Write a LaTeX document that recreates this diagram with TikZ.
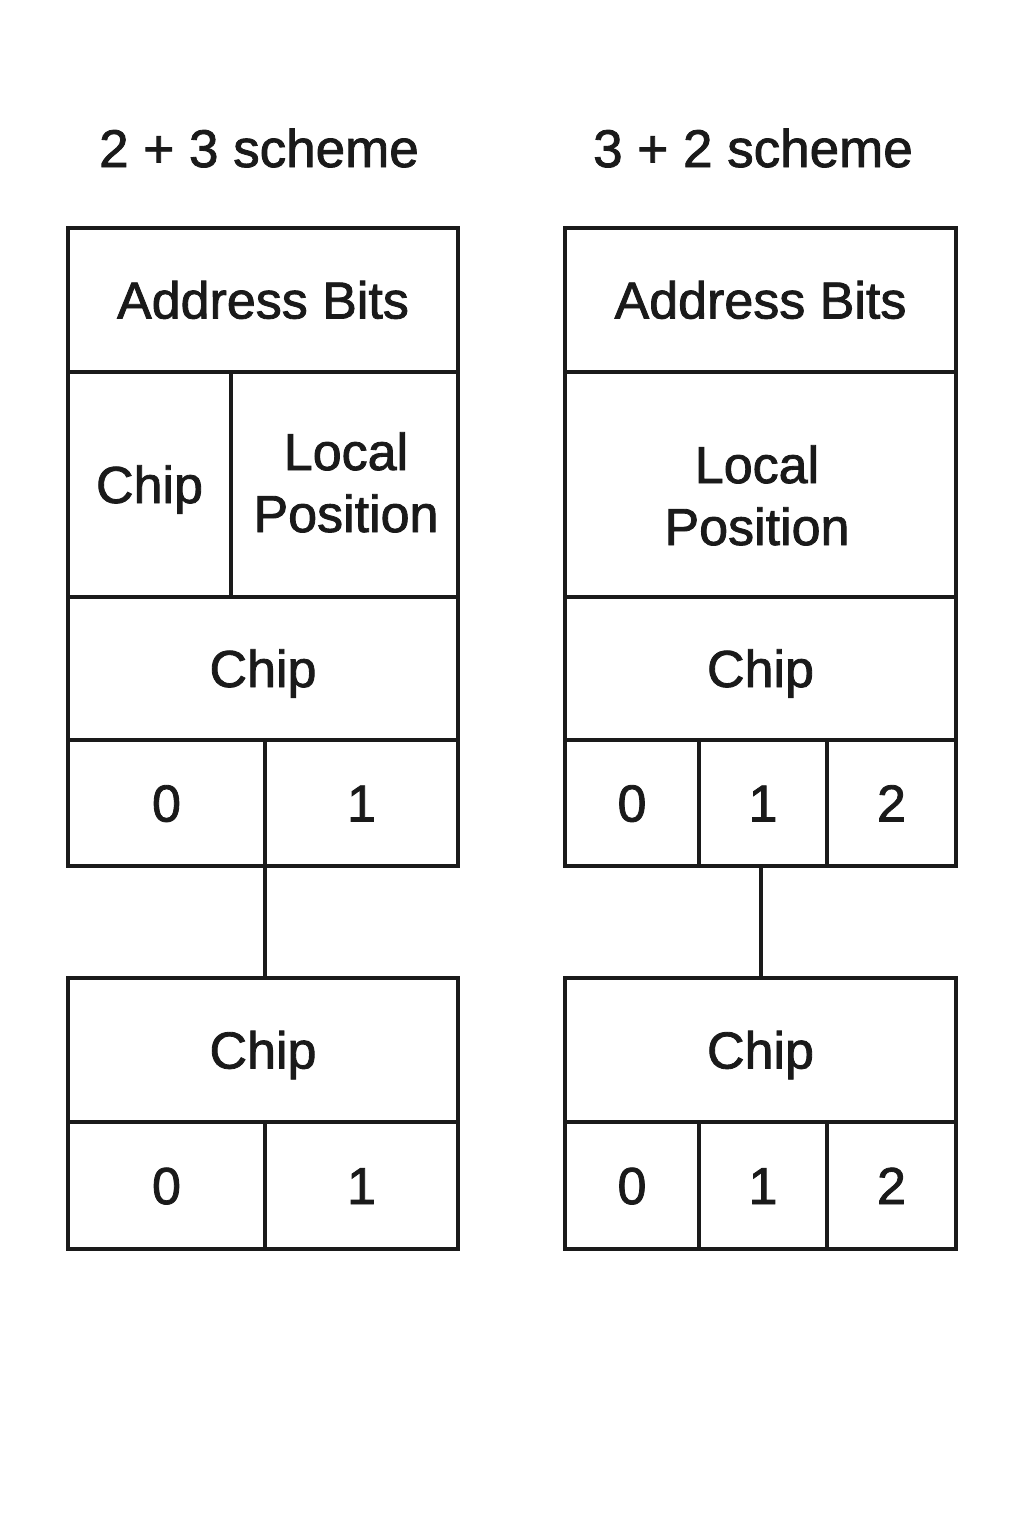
\documentclass[tikz,border=0pt]{standalone}
\usepackage{fontspec}
\setmainfont{Liberation Sans}[BoldFont=Liberation Sans, BoldFeatures={FakeBold=1.6}]
\definecolor{ink}{HTML}{1A1A1A}
\begin{document}
\begin{tikzpicture}[x=1pt,y=-1pt,
  cell/.style={draw=ink, line width=3.2pt, inner sep=0pt, outer sep=0pt, rectangle,
    text=ink, font=\fontsize{52}{62}\selectfont\bfseries, align=center,
    text height=37pt, text depth=0pt},
  lbl/.style={text=ink, font=\fontsize{52}{62}\selectfont\bfseries, align=center, inner sep=0pt},
  title/.style={text=ink, font=\fontsize{53}{62}\selectfont\bfseries, inner sep=0pt,
    text height=38pt, text depth=0pt},
  link/.style={draw=ink, line width=3.2pt}
]
\fill[white] (0,0) rectangle (1024,1536);
\useasboundingbox (0,0) rectangle (1024,1536);
% titles
\node[title] (t1) at (259,148) {2 + 3 scheme};
\node[title] (t2) at (753,148) {3 + 2 scheme};
% left upper block
\node[cell, minimum width=390pt, minimum height=144pt] (la) at (263,300) {Address Bits};
\node[cell, minimum width=163pt, minimum height=225pt] (lc) at (149.5,484.5) {Chip};
\node[cell, minimum width=227pt, minimum height=225pt] (llp) at (344.5,484.5) {};
\node[lbl, anchor=base] (llpt) at (346,532) {Local\\Position};
\node[cell, minimum width=390pt, minimum height=143pt] (lchip) at (263,668.5) {Chip};
\node[cell, minimum width=197pt, minimum height=126pt] (l0) at (166.5,803) {0};
\node[cell, minimum width=193pt, minimum height=126pt] (l1) at (361.5,803) {1};
% left lower block
\node[cell, minimum width=390pt, minimum height=144pt] (lbchip) at (263,1050) {Chip};
\node[cell, minimum width=197pt, minimum height=127pt] (lb0) at (166.5,1185.5) {0};
\node[cell, minimum width=193pt, minimum height=127pt] (lb1) at (361.5,1185.5) {1};
\draw[link] (l0.south east) -- (l0.south east |- lbchip.north);
% right upper block
\node[cell, minimum width=391pt, minimum height=144pt] (ra) at (760.5,300) {Address Bits};
\node[cell, minimum width=391pt, minimum height=225pt] (rlp) at (760.5,484.5) {};
\node[lbl, anchor=base] (rlpt) at (757,545) {Local\\Position};
\node[cell, minimum width=391pt, minimum height=143pt] (rchip) at (760.5,668.5) {Chip};
\node[cell, minimum width=134pt, minimum height=126pt] (r0) at (632,803) {0};
\node[cell, minimum width=128pt, minimum height=126pt] (r1) at (763,803) {1};
\node[cell, minimum width=129pt, minimum height=126pt] (r2) at (891.5,803) {2};
% right lower block
\node[cell, minimum width=391pt, minimum height=144pt] (rbchip) at (760.5,1050) {Chip};
\node[cell, minimum width=134pt, minimum height=127pt] (rb0) at (632,1185.5) {0};
\node[cell, minimum width=128pt, minimum height=127pt] (rb1) at (763,1185.5) {1};
\node[cell, minimum width=129pt, minimum height=127pt] (rb2) at (891.5,1185.5) {2};
\draw[link] (r1.south) ++(-2,0) coordinate (rs) -- (rs |- rbchip.north);
\end{tikzpicture}
\end{document}
